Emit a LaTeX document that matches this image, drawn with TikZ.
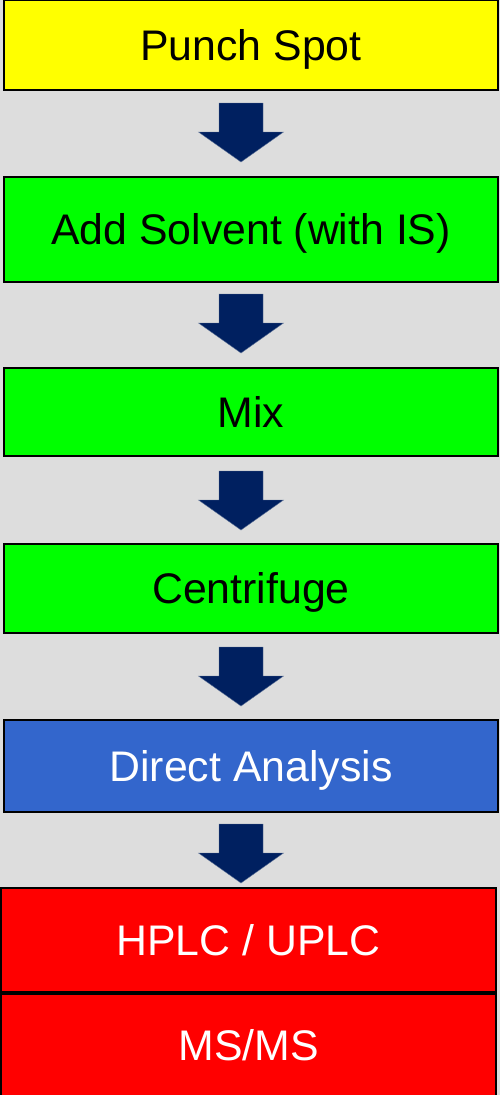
\documentclass[tikz,border=0pt]{standalone}
\usepackage{fontspec}
\setmainfont{Liberation Sans}
\definecolor{bgc}{HTML}{DDDDDD}
\definecolor{navyc}{HTML}{002060}
\definecolor{navyedge}{HTML}{5A6F95}
\definecolor{yel}{HTML}{FFFF00}
\definecolor{grn}{HTML}{00FF00}
\definecolor{blu}{HTML}{3366CC}
\definecolor{rd}{HTML}{FF0000}
\begin{document}
\begin{tikzpicture}[x=1pt,y=-1pt,
  stepbox/.style={draw=black,line width=1.6pt,anchor=north west,inner sep=0pt,outer sep=0pt,
    minimum width=494pt,text height=30.5pt,text depth=0pt,align=center,
    font=\fontsize{42.8}{50}\selectfont},
  downarrow/.pic={\fill[navyc,draw=navyedge,line width=0.4pt]
    (-22,0) -- (22,0) -- (22,29) -- (42.5,29) -- (0,59) -- (-42.5,29) -- (-22,29) -- cycle;}]
\fill[bgc] (0,0) rectangle (500,1095);
\useasboundingbox (0,0) rectangle (500,1095);
\node[stepbox,fill=yel,minimum height=89.5pt] (punch) at (4,0.5) {Punch Spot};
\node[stepbox,fill=grn,minimum height=105pt] (solvent) at (4,177) {Add Solvent (with IS)};
\node[stepbox,fill=grn,minimum height=88pt] (mix) at (4,368) {Mix};
\node[stepbox,fill=grn,minimum height=89pt] (centri) at (4,544) {Centrifuge};
\node[stepbox,fill=blu,text=white,minimum height=92pt] (direct) at (4,720) {Direct Analysis};
\node[stepbox,fill=rd,text=white,minimum width=495pt,minimum height=104pt] (hplc) at (1,888) {HPLC / UPLC};
\node[stepbox,fill=rd,text=white,minimum width=495pt,minimum height=102pt] (msms) at (1,994) {MS/MS};
\coordinate (a1) at (241,103);
\coordinate (a2) at (241,294);
\coordinate (a3) at (241,471);
\coordinate (a4) at (241,647);
\coordinate (a5) at (241,824);
\foreach \a in {a1,a2,a3,a4,a5} { \pic at (\a) {downarrow}; }
\end{tikzpicture}
\end{document}
